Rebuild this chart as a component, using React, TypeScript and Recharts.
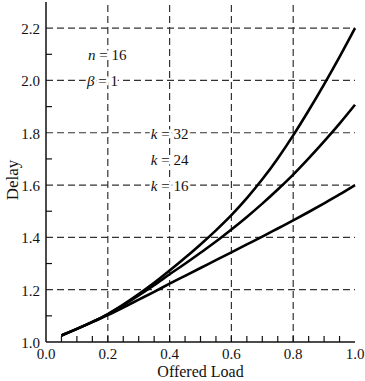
import React from 'react';
import { LineChart, Line, XAxis, YAxis, ReferenceLine, ReferenceDot } from 'recharts';

// offered load (x) and delay curves
const offeredLoad = [0.05, 0.1, 0.15, 0.2, 0.25, 0.3, 0.35, 0.4, 0.45, 0.5, 0.55, 0.6, 0.65, 0.7, 0.75, 0.8, 0.85, 0.9, 0.95, 1.0];
const delayK32 = [1.025, 1.05, 1.077, 1.107, 1.143, 1.183, 1.226, 1.273, 1.322, 1.373, 1.427, 1.485, 1.55, 1.622, 1.702, 1.79, 1.885, 1.985, 2.09, 2.2];
const delayK24 = [1.025, 1.05, 1.077, 1.106, 1.141, 1.178, 1.217, 1.259, 1.299, 1.341, 1.384, 1.43, 1.478, 1.529, 1.583, 1.64, 1.702, 1.767, 1.835, 1.907];
const delayK16 = [1.025, 1.05, 1.076, 1.103, 1.132, 1.162, 1.192, 1.223, 1.253, 1.283, 1.313, 1.343, 1.373, 1.403, 1.434, 1.465, 1.497, 1.53, 1.564, 1.6];

const xTicks = [0, 0.05, 0.1, 0.15, 0.2, 0.25, 0.3, 0.35, 0.4, 0.45, 0.5, 0.55, 0.6, 0.65, 0.7, 0.75, 0.8, 0.85, 0.9, 0.95, 1.0];
const yTicks = [1.0, 1.1, 1.2, 1.3, 1.4, 1.5, 1.6, 1.7, 1.8, 1.9, 2.0, 2.1, 2.2];
const gridX = [0.2, 0.4, 0.6, 0.8];
const gridY = [1.2, 1.4, 1.6, 1.8, 2.0, 2.2];

// annotations: symbol, value, position
const noteSymbols = ['n', 'β', 'k', 'k', 'k'];
const noteValues = ['16', '1', '32', '24', '16'];
const noteX = [0.198, 0.183, 0.4, 0.4, 0.4];
const noteY = [2.1, 2.0, 1.8, 1.7, 1.6];

const data = offeredLoad.map((load, i) => ({
  load,
  k32: delayK32[i],
  k24: delayK24[i],
  k16: delayK16[i],
}));

const FONT = '"Liberation Serif", "Times New Roman", "DejaVu Serif", serif';
const FRAME = '#111';
const TICK_LEN = 6;

const isMajor = (v: number) => Math.abs(v * 5 - Math.round(v * 5)) < 1e-6;
const isEdge = (v: number, lo: number, hi: number) => Math.abs(v - lo) < 1e-6 || Math.abs(v - hi) < 1e-6;

const BottomTick = ({ x, y, payload }: any) => {
  const v = payload.value;
  return (
    <g>
      {!isEdge(v, 0, 1) && <line x1={x} x2={x} y1={y} y2={y - TICK_LEN} stroke={FRAME} strokeWidth={1.2} />}
      {isMajor(v) && (
        <text x={x} y={y + 17} textAnchor="middle" style={{ fontFamily: FONT, fontSize: 15 }} fill="#111">
          {v.toFixed(1)}
        </text>
      )}
    </g>
  );
};

const TopTick = ({ x, y, payload }: any) => {
  const v = payload.value;
  if (isEdge(v, 0, 1)) return <g />;
  return <line x1={x} x2={x} y1={y} y2={y + TICK_LEN} stroke={FRAME} strokeWidth={1.2} />;
};

const LeftTick = ({ x, y, payload }: any) => {
  const v = payload.value;
  return (
    <g>
      {!isMajor(v) && <line x1={x} x2={x + TICK_LEN} y1={y} y2={y} stroke={FRAME} strokeWidth={1.2} />}
      {isMajor(v) && (
        <text x={x - 6} y={y + 1} textAnchor="end" dominantBaseline="central" style={{ fontFamily: FONT, fontSize: 15 }} fill="#111">
          {v.toFixed(1)}
        </text>
      )}
    </g>
  );
};

const RightTick = ({ x, y, payload }: any) => {
  const v = payload.value;
  if (isMajor(v)) return <g />;
  return <line x1={x} x2={x - TICK_LEN} y1={y} y2={y} stroke={FRAME} strokeWidth={1.2} />;
};

const XTitle = ({ viewBox }: any) => (
  <text x={viewBox.x + viewBox.width / 2} y={viewBox.y + 35} textAnchor="middle" style={{ fontFamily: FONT, fontSize: 16 }} fill="#111">
    Offered Load
  </text>
);

const YTitle = ({ viewBox }: any) => {
  const cx = viewBox.x + 12;
  const cy = viewBox.y + viewBox.height / 2 + 8;
  return (
    <text x={cx} y={cy} transform={`rotate(-90 ${cx} ${cy})`} textAnchor="middle" dominantBaseline="central" style={{ fontFamily: FONT, fontSize: 17 }} fill="#111">
      Delay
    </text>
  );
};

const NoteLabel = ({ viewBox, sym, val }: any) => {
  const cx = viewBox.x + viewBox.width / 2;
  const cy = viewBox.y + viewBox.height / 2;
  return (
    <text
      x={cx}
      y={cy + 1}
      textAnchor="middle"
      dominantBaseline="central"
      style={{ fontFamily: FONT, fontSize: 15, paintOrder: 'stroke' }}
      fill="#111"
      stroke="#fff"
      strokeWidth={5}
    >
      <tspan fontStyle="italic">{sym}</tspan>
      {' = ' + val}
    </text>
  );
};

export default function App() {
  return (
    <div style={{ width: 365, height: 381, background: '#fff' }}>
      <style>{'body{margin:0;background:#fff}'}</style>
      <LineChart width={365} height={381} data={data} margin={{ top: 2, right: 10, left: 0, bottom: 0 }}>
        <XAxis
          dataKey="load"
          type="number"
          domain={[0, 1]}
          ticks={xTicks}
          interval={0}
          tickSize={0}
          tickMargin={0}
          tickLine={false}
          axisLine={{ stroke: FRAME, strokeWidth: 1.5 }}
          tick={(p: any) => <BottomTick {...p} />}
          height={39}
          label={(p: any) => <XTitle {...p} />}
        />
        <XAxis
          xAxisId="top"
          orientation="top"
          dataKey="load"
          type="number"
          domain={[0, 1]}
          ticks={xTicks}
          interval={0}
          tickSize={0}
          tickMargin={0}
          tickLine={false}
          axisLine={{ stroke: FRAME, strokeWidth: 1.5 }}
          tick={(p: any) => <TopTick {...p} />}
          height={0}
        />
        <YAxis
          type="number"
          domain={[1, 2.3]}
          ticks={yTicks}
          interval={0}
          tickSize={0}
          tickMargin={0}
          tickLine={false}
          axisLine={{ stroke: FRAME, strokeWidth: 1.5 }}
          tick={(p: any) => <LeftTick {...p} />}
          width={46}
          label={(p: any) => <YTitle {...p} />}
        />
        <YAxis
          yAxisId="right"
          orientation="right"
          type="number"
          domain={[1, 2.3]}
          ticks={yTicks}
          interval={0}
          tickSize={0}
          tickMargin={0}
          tickLine={false}
          axisLine={{ stroke: FRAME, strokeWidth: 1.5 }}
          tick={(p: any) => <RightTick {...p} />}
          width={0}
        />
        {gridX.map((v) => (
          <ReferenceLine key={'gx' + v} x={v} stroke="#333" strokeWidth={1.2} strokeDasharray="7 4" />
        ))}
        {gridY.map((v) => (
          <ReferenceLine key={'gy' + v} y={v} stroke="#333" strokeWidth={1.2} strokeDasharray="7 4" />
        ))}
        <Line type="monotone" dataKey="k32" stroke="#000" strokeWidth={2.6} dot={false} isAnimationActive={false} />
        <Line type="monotone" dataKey="k24" stroke="#000" strokeWidth={2.6} dot={false} isAnimationActive={false} />
        <Line type="monotone" dataKey="k16" stroke="#000" strokeWidth={2.6} dot={false} isAnimationActive={false} />
        {noteSymbols.map((s, i) => (
          <ReferenceDot
            key={'note' + i}
            x={noteX[i]}
            y={noteY[i]}
            r={0}
            fill="none"
            stroke="none"
            label={(p: any) => <NoteLabel {...p} sym={s} val={noteValues[i]} />}
          />
        ))}
      </LineChart>
    </div>
  );
}
